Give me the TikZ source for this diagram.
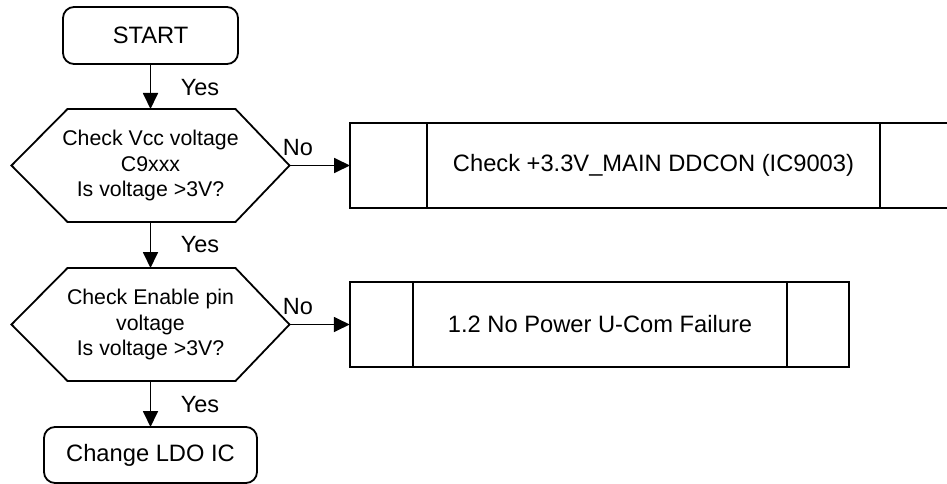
\documentclass[tikz,border=0pt]{standalone}
\usepackage{fontspec}
\setmainfont{Liberation Sans}
\usetikzlibrary{arrows.meta}
\newcommand{\lblfont}{\fontsize{23.5}{28}\selectfont}
\newcommand{\hexfont}{\fontsize{21.3}{25.5}\selectfont}
\newcommand{\boxfont}{\fontsize{23.7}{28}\selectfont}
\begin{document}
\begin{tikzpicture}[x=1pt,y=-1pt,line width=1.8pt,
  arr/.style={-{Triangle[length=16pt,width=15pt]}},
  termbox/.style={draw,rounded corners=11pt,inner sep=0pt,outer sep=0pt,font=\boxfont},
  hexbox/.style={minimum width=278pt,minimum height=113pt,align=center,inner sep=0pt,outer sep=0pt,font=\hexfont},
  procbox/.style={draw,inner sep=0pt,outer sep=0pt},
  lbl/.style={inner sep=0pt,font=\lblfont},
  txt/.style={inner sep=0pt,font=\boxfont}]
\useasboundingbox (0,0) rectangle (947,484);
\clip (0,0) rectangle (947,484);
% terminals
\node[termbox,minimum width=175pt,minimum height=57pt] (start) at (150.5,35.5) {START};
\node[termbox,minimum width=213pt,minimum height=56pt] (ldo) at (150.5,455) {Change LDO IC};
% decisions
\node[hexbox] (hexA) at (150.5,165.5) {Check Vcc voltage\\C9xxx\\Is voltage >3V?};
\node[hexbox] (hexB) at (150.5,324.5) {Check Enable pin\\voltage\\Is voltage >3V?};
\foreach \h in {hexA,hexB}{
  \draw (\h.west) -- ([xshift=56pt]\h.north west) -- ([xshift=-54pt]\h.north east)
     -- (\h.east) -- ([xshift=-54pt]\h.south east) -- ([xshift=56pt]\h.south west) -- cycle;
}
% predefined process boxes
\node[procbox,minimum width=610pt,minimum height=85pt] (boxA) at (655,165.5) {};
\draw ([xshift=77pt]boxA.north west) -- ([xshift=77pt]boxA.south west);
\draw ([xshift=530pt]boxA.north west) -- ([xshift=530pt]boxA.south west);
\node[txt] (textA) at (653.5,165.5) {Check +3.3V\_MAIN DDCON (IC9003)};
\node[procbox,minimum width=499.5pt,minimum height=85.5pt] (boxB) at (599.5,324.5) {};
\draw ([xshift=63pt]boxB.north west) -- ([xshift=63pt]boxB.south west);
\draw ([xshift=-62pt]boxB.north east) -- ([xshift=-62pt]boxB.south east);
\node[txt] (textB) at (600,324.5) {1.2 No Power U-Com Failure};
% connectors
\draw[arr] (start) -- (hexA);
\draw[arr] (hexA) -- (hexB);
\draw[arr] (hexB) -- (ldo);
\draw[arr] (hexA.east) -- (boxA.west);
\draw[arr] (hexB.east) -- (boxB.west);
% labels
\node[lbl] (yes1) at (200,88) {Yes};
\node[lbl] (yes2) at (200,245) {Yes};
\node[lbl] (yes3) at (200,405) {Yes};
\node[lbl] (no1) at (298,148) {No};
\node[lbl] (no2) at (298,307) {No};
\end{tikzpicture}
\end{document}
